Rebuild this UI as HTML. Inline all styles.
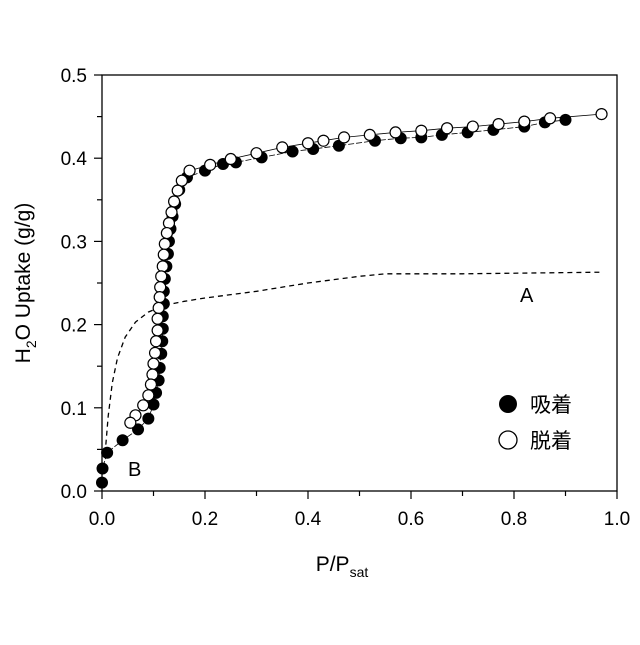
<!DOCTYPE html>
<html><head><meta charset="utf-8"><style>
html,body{margin:0;padding:0;background:#fff;}
svg text{font-family:"Liberation Sans","Noto Sans CJK JP",sans-serif;fill:#000;}
</style></head><body>
<svg id="s" width="640" height="640" xmlns="http://www.w3.org/2000/svg"></svg>
<script>
const X0=102,X1=617,Y0=491,Y1=75;
const px=x=>X0+x*(X1-X0), py=y=>Y0-y*(Y0-Y1)/0.5;
let h='';
h+=`<rect x="${X0}" y="${Y1}" width="${X1-X0}" height="${Y0-Y1}" fill="none" stroke="#000" stroke-width="1.3"/>`;
for(let i=0;i<=10;i++){let x=px(i/10);h+=`<line x1="${x}" y1="${Y0}" x2="${x}" y2="${Y0+(i%2?5:8)}" stroke="#000" stroke-width="1.2"/>`;
 if(i%2==0)h+=`<text x="${x}" y="${Y0+34}" font-size="19" text-anchor="middle">${(i/10).toFixed(1)}</text>`;}
for(let i=0;i<=10;i++){let y=py(i*0.05);h+=`<line x1="${X0}" y1="${y}" x2="${X0-(i%2?5:8)}" y2="${y}" stroke="#000" stroke-width="1.2"/>`;
 if(i%2==0)h+=`<text x="${X0-15}" y="${y+7}" font-size="19" text-anchor="end">${(i*0.05).toFixed(1)}</text>`;}
h+=`<text x="342" y="571" font-size="21" text-anchor="middle">P/P<tspan font-size="14" dy="6">sat</tspan></text>`;
h+=`<text transform="translate(30,283) rotate(-90)" font-size="21" text-anchor="middle">H<tspan font-size="14" dy="6">2</tspan><tspan dy="-6">O Uptake (g/g)</tspan></text>`;
const ads=[[0,0.01],[0.001,0.027],[0.01,0.046],[0.04,0.061],[0.07,0.074],[0.09,0.087],[0.1,0.104],[0.105,0.118],[0.11,0.133],[0.112,0.148],[0.115,0.165],[0.117,0.18],[0.118,0.195],[0.118,0.21],[0.12,0.225],[0.12,0.24],[0.122,0.255],[0.125,0.27],[0.128,0.285],[0.13,0.3],[0.133,0.315],[0.137,0.33],[0.142,0.345],[0.15,0.362],[0.165,0.377],[0.2,0.385],[0.235,0.393],[0.26,0.395],[0.31,0.401],[0.37,0.408],[0.41,0.411],[0.46,0.415],[0.53,0.421],[0.58,0.424],[0.62,0.425],[0.66,0.428],[0.71,0.431],[0.76,0.434],[0.82,0.438],[0.86,0.443],[0.9,0.446]];
const des=[[0.97,0.453],[0.87,0.448],[0.82,0.444],[0.77,0.441],[0.72,0.438],[0.67,0.436],[0.62,0.433],[0.57,0.431],[0.52,0.428],[0.47,0.425],[0.43,0.421],[0.4,0.418],[0.35,0.413],[0.3,0.406],[0.25,0.399],[0.21,0.392],[0.17,0.385],[0.155,0.373],[0.147,0.361],[0.14,0.348],[0.135,0.335],[0.13,0.322],[0.126,0.31],[0.122,0.297],[0.12,0.284],[0.118,0.27],[0.115,0.258],[0.113,0.245],[0.112,0.233],[0.11,0.22],[0.108,0.207],[0.108,0.193],[0.105,0.18],[0.103,0.166],[0.1,0.153],[0.098,0.14],[0.095,0.128],[0.09,0.115],[0.08,0.103],[0.065,0.091],[0.055,0.082]];
const A=[[0.006,0.045],[0.012,0.09],[0.02,0.13],[0.03,0.16],[0.045,0.185],[0.065,0.203],[0.09,0.215],[0.12,0.223],[0.16,0.228],[0.2,0.232],[0.3,0.24],[0.4,0.25],[0.5,0.258],[0.55,0.261],[0.7,0.261],[0.97,0.263]];
const pl=(a,st)=>`<polyline points="${a.map(p=>px(p[0]).toFixed(1)+','+py(p[1]).toFixed(1)).join(' ')}" fill="none" stroke="#000" ${st}/>`;
h+=pl(A,'stroke-width="1.3" stroke-dasharray="5,4"');
h+=pl(ads,'stroke-width="0.8" stroke-dasharray="6,2"');
h+=pl(des,'stroke-width="0.8"');
ads.forEach(p=>h+=`<circle cx="${px(p[0])}" cy="${py(p[1])}" r="6" fill="#000"/>`);
des.forEach(p=>h+=`<circle cx="${px(p[0])}" cy="${py(p[1])}" r="5.5" fill="#fff" stroke="#000" stroke-width="1.2"/>`);
h+=`<text x="128" y="476" font-size="20">B</text><text x="520" y="302" font-size="20">A</text>`;
h+=`<circle cx="508" cy="404" r="9" fill="#000"/><text x="530" y="412" font-size="21">吸着</text>`;
h+=`<circle cx="508" cy="440" r="9" fill="#fff" stroke="#000" stroke-width="1.3"/><text x="530" y="448" font-size="21">脱着</text>`;
document.getElementById('s').innerHTML=h;
</script>
</body></html>
